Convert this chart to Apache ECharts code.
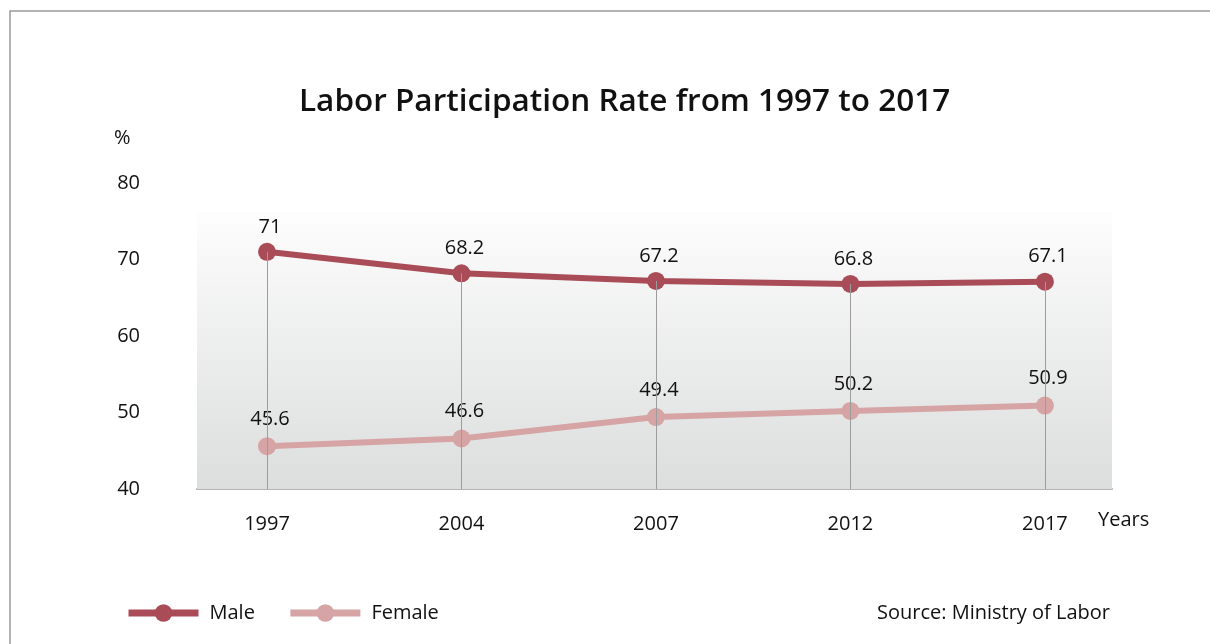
<!DOCTYPE html>
<html>
<head>
<meta charset="utf-8">
<script src="https://cdn.jsdelivr.net/npm/echarts@6/dist/echarts.min.js"></script>
<style>
  html, body { margin: 0; padding: 0; background: #fff; }
  #chart { width: 1210px; height: 644px; }
</style>
</head>
<body>
<div id="chart"></div>
<script>
// Labor participation rate (%) by survey year
const years = ['1997', '2004', '2007', '2012', '2017'];
const male = [71, 68.2, 67.2, 66.8, 67.1];
const female = [45.6, 46.6, 49.4, 50.2, 50.9];
const yTicks = [40, 50, 60, 70, 80];

const FONT = '"Open Sans", "Noto Sans", sans-serif';
const MALE_COLOR = '#a94c58';
const FEMALE_COLOR = '#d6a4a4';

const idx = years.map((_, i) => i);
const malePts = male.map((v, i) => [i, v]);
const femalePts = female.map((v, i) => [i, v]);

// drop lines from each male point down to the baseline
const dropLines = male.map((v, i) => [
  { coord: [i, v] },
  { coord: [i, yTicks[0]] }
]);

const chart = echarts.init(document.getElementById('chart'), null, { renderer: 'canvas' });

chart.setOption({
  backgroundColor: '#ffffff',
  animation: false,
  textStyle: { fontFamily: FONT },
  title: {
    text: 'Labor Participation Rate from 1997 to 2017',
    left: 294,
    top: 81,
    textStyle: { fontFamily: FONT, fontSize: 31.5, fontWeight: 600, color: '#111' }
  },
  graphic: [
    {
      type: 'rect',
      silent: true,
      z: -10,
      shape: { x: 10, y: 11, width: 1400, height: 800 },
      style: { fill: 'none', stroke: '#9a9a9a', lineWidth: 1.5 }
    },
    {
      type: 'text',
      left: 114,
      top: 128,
      style: { text: '%', fontFamily: FONT, fontSize: 20, fill: '#111' }
    },
    {
      type: 'text',
      left: 1098,
      top: 510,
      style: { text: 'Years', fontFamily: FONT, fontSize: 20, fill: '#111' }
    },
    {
      type: 'text',
      right: 100,
      top: 603,
      style: { text: 'Source: Ministry of Labor', fontFamily: FONT, fontSize: 20, fill: '#111' }
    }
  ],
  legend: {
    data: ['Male', 'Female'],
    left: 125,
    top: 603,
    padding: 0,
    itemWidth: 70,
    itemHeight: 22,
    itemGap: 32,
    lineStyle: { width: 7 },
    textStyle: { fontFamily: FONT, fontSize: 20, color: '#111', padding: [0, 0, 0, 6] }
  },
  grid: {
    left: 197,
    right: 98,
    top: 183,
    bottom: 155,
    containLabel: false
  },
  xAxis: {
    type: 'value',
    min: -0.36,
    max: 4.345,
    splitLine: { show: false },
    axisTick: { show: false },
    axisLine: { show: true, lineStyle: { color: '#b5b5b5', width: 2 } },
    axisLabel: {
      customValues: idx,
      formatter: (v) => years[Math.round(v)],
      margin: 25,
      fontFamily: FONT,
      fontSize: 20,
      color: '#111'
    }
  },
  yAxis: {
    type: 'value',
    min: 40,
    max: 80,
    interval: 10,
    splitLine: { show: false },
    axisLine: { show: false },
    axisTick: { show: false },
    axisLabel: {
      margin: 57,
      fontFamily: FONT,
      fontSize: 20,
      color: '#111'
    }
  },
  series: [
    {
      name: 'backdrop',
      type: 'line',
      data: malePts,
      symbol: 'none',
      silent: true,
      z: 1,
      lineStyle: { opacity: 0 },
      markArea: {
        silent: true,
        itemStyle: {
          color: new echarts.graphic.LinearGradient(0, 0, 0, 1, [
            { offset: 0, color: '#fdfdfd' },
            { offset: 1, color: '#dcdddd' }
          ])
        },
        data: [[{ yAxis: 40 }, { yAxis: 76.2 }]]
      },
      markLine: {
        silent: true,
        symbol: ['none', 'none'],
        label: { show: false },
        lineStyle: { color: '#9c9c9c', width: 1, type: 'solid' },
        data: dropLines
      }
    },
    {
      name: 'Male',
      type: 'line',
      data: malePts,
      z: 4,
      symbol: 'circle',
      symbolSize: 18,
      color: MALE_COLOR,
      lineStyle: { color: MALE_COLOR, width: 6 },
      itemStyle: { color: MALE_COLOR },
      label: {
        show: true,
        position: 'top',
        distance: 6,
        offset: [3, 0],
        formatter: (p) => String(male[p.dataIndex]),
        fontFamily: FONT,
        fontSize: 20,
        color: '#111'
      }
    },
    {
      name: 'Female',
      type: 'line',
      data: femalePts,
      z: 3,
      symbol: 'circle',
      symbolSize: 18,
      color: FEMALE_COLOR,
      lineStyle: { color: FEMALE_COLOR, width: 6 },
      itemStyle: { color: FEMALE_COLOR },
      label: {
        show: true,
        position: 'top',
        distance: 8,
        offset: [3, 0],
        formatter: (p) => String(female[p.dataIndex]),
        fontFamily: FONT,
        fontSize: 20,
        color: '#111'
      }
    }
  ]
});
</script>
</body>
</html>
